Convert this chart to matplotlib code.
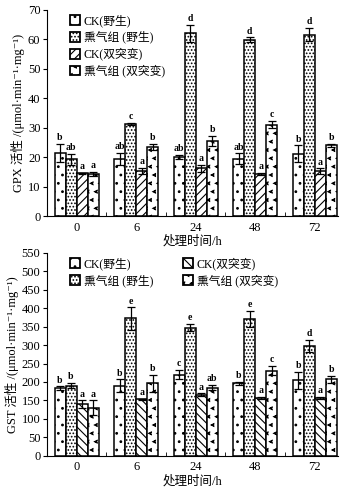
import numpy as np
import matplotlib
matplotlib.use("Agg")
import matplotlib.pyplot as plt
import matplotlib.hatch as mhatch
from matplotlib.path import Path
from matplotlib.patches import Patch

plt.rcParams['font.family'] = ['Liberation Serif', 'Noto Sans CJK SC', 'DejaVu Serif']
plt.rcParams['hatch.linewidth'] = 0.8


# chevron hatch ('<' marks) for the double mutant fumigated group, takes the '*' slot
class Chevrons(mhatch.Shapes):
    size = 0.32
    filled = True

    def __init__(self, hatch, density):
        self.num_rows = hatch.count('*') * density
        v = np.array([[0.5, 0.5], [-0.5, 0.0], [0.5, -0.5], [0.5, -0.3],
                      [-0.05, 0.0], [0.5, 0.3], [0.5, 0.5]])
        c = np.full(len(v), Path.LINETO, dtype=Path.code_type)
        c[0] = Path.MOVETO
        c[-1] = Path.CLOSEPOLY
        self.shape_vertices = v
        self.shape_codes = c
        super().__init__(hatch, density)


mhatch._hatch_types = [Chevrons if t is mhatch.Stars else t for t in mhatch._hatch_types]

# data
times = ["0", "6", "24", "48", "72"]
labels = ["CK(野生)", "熏气组 (野生)", "CK(双突变)", "熏气组 (双突变)"]

gpx = [[21.5, 19.5, 20.2, 19.5, 21.2],
       [19.3, 31.3, 62.0, 59.8, 61.6],
       [14.5, 15.3, 16.3, 14.3, 15.2],
       [14.3, 23.5, 25.5, 31.0, 24.0]]
gpx_err = [[3.0, 2.0, 0.7, 1.8, 2.8],
           [1.8, 0.3, 3.0, 0.8, 2.2],
           [0.3, 1.0, 1.2, 0.5, 1.0],
           [0.7, 1.0, 1.7, 1.2, 0.5]]
gpx_sig = [["b", "ab", "ab", "ab", "b"],
           ["ab", "c", "d", "d", "d"],
           ["a", "a", "a", "a", "a"],
           ["a", "b", "b", "c", "b"]]

gst = [[183, 190, 220, 197, 205],
       [190, 372, 347, 370, 297],
       [140, 153, 165, 157, 157],
       [130, 197, 185, 231, 207]]
gst_err = [[5, 17, 12, 4, 23],
           [7, 30, 10, 22, 17],
           [10, 2, 4, 2, 2],
           [20, 23, 8, 12, 10]]
gst_sig = [["b", "b", "c", "b", "b"],
           ["b", "e", "e", "e", "d"],
           ["a", "a", "a", "a", "a"],
           ["a", "b", "ab", "c", "b"]]

fig = plt.figure(figsize=(3.46, 4.88), dpi=100)
ax1 = fig.add_axes([0.137, 0.557, 0.84, 0.423])
ax2 = fig.add_axes([0.137, 0.066, 0.84, 0.416])

x = np.arange(len(times))
w = 0.185


def draw(ax, vals, errs, sigs, hatches, ymax, ystep, off, ylabel, ncol):
    handles = []
    for i in range(4):
        pos = x + (i - 1.5) * w
        ax.bar(pos, vals[i], w, color='white', edgecolor='black', linewidth=1.1,
               hatch=hatches[i])
        ax.errorbar(pos, vals[i], yerr=errs[i], fmt='none', ecolor='black',
                    elinewidth=0.9, capsize=3, capthick=0.9)
        for p, v, e, s in zip(pos, vals[i], errs[i], sigs[i]):
            ax.text(p, v + e + off, s, ha='center', va='bottom', fontsize=7,
                    fontweight='bold')
        handles.append(Patch(facecolor='white', edgecolor='black', linewidth=1.3,
                             hatch=hatches[i], label=labels[i]))
    ax.set_ylim(0, ymax)
    ax.set_yticks(np.arange(0, ymax + 1, ystep))
    ax.set_xlim(-0.49, 4.39)
    ax.set_xticks(x)
    ax.set_xticklabels(times)
    ax.set_xticks(np.arange(0.5, 4, 1), minor=True)
    ax.tick_params(axis='x', which='major', length=0, labelsize=9, pad=4)
    ax.tick_params(axis='x', which='minor', direction='in', length=3)
    ax.tick_params(axis='y', direction='out', length=3, labelsize=9, pad=2)
    ax.spines['top'].set_visible(False)
    ax.spines['right'].set_visible(False)
    ax.set_xlabel("处理时间/h", fontsize=9, labelpad=1)
    ax.set_ylabel(ylabel, fontsize=9, labelpad=2)
    ax.legend(handles=handles, loc='upper left', ncol=ncol, frameon=False,
              fontsize=8.5, handlelength=0.9, handleheight=0.9, handletextpad=0.3,
              labelspacing=0.35, columnspacing=2.5, bbox_to_anchor=(0.04, 1.03))


draw(ax1, gpx, gpx_err, gpx_sig, ['..', '.....', '////', '**'], 70, 10, 0.6,
     "GPX 活性 /(μmol·min⁻¹·mg⁻¹)", 1)
draw(ax2, gst, gst_err, gst_sig, ['..', '.....', '\\\\\\\\', '**'], 550, 50, 5,
     "GST 活性 /(μmol·min⁻¹·mg⁻¹)", 2)

fig.savefig("out.png", dpi=100)
